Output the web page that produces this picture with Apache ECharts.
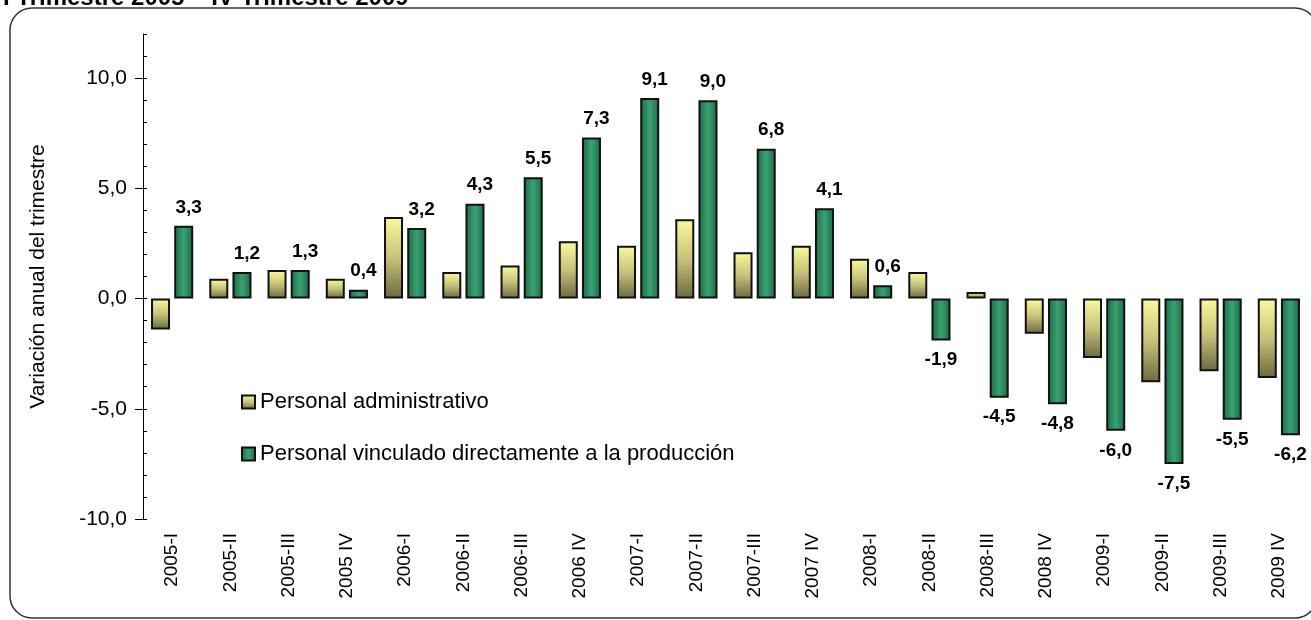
<!DOCTYPE html>
<html>
<head>
<meta charset="utf-8">
<script src="https://cdn.jsdelivr.net/npm/echarts@6/dist/echarts.min.js"></script>
<style>
  html, body { margin: 0; padding: 0; background: #fff; }
  #chart { width: 1311px; height: 620px; }
</style>
</head>
<body>
<div id="chart"></div>
<script>
var FONT = "'Liberation Sans', Arial, sans-serif";

var trimestres = ['2005-I', '2005-II', '2005-III', '2005 IV', '2006-I', '2006-II', '2006-III', '2006 IV',
    '2007-I', '2007-II', '2007-III', '2007 IV', '2008-I', '2008-II', '2008-III', '2008 IV',
    '2009-I', '2009-II', '2009-III', '2009 IV'];

// Personal administrativo (sin etiqueta en el original)
var administrativo = [-1.4, 0.9, 1.3, 0.9, 3.7, 1.2, 1.5, 2.6, 2.4, 3.6,
    2.1, 2.4, 1.8, 1.2, 0.3, -1.6, -2.7, -3.8, -3.3, -3.6];

// Personal vinculado directamente a la produccion
var produccion = [3.3, 1.2, 1.3, 0.4, 3.2, 4.3, 5.5, 7.3, 9.1, 9.0,
    6.8, 4.1, 0.6, -1.9, -4.5, -4.8, -6.0, -7.5, -5.5, -6.2];

var yLabels = [-10, -5, 0, 5, 10];

function coma(v) {
    return Number(v).toFixed(1).replace('.', ',');
}

var chart = echarts.init(document.getElementById('chart'));

var produccionData = produccion.map(function (v) {
    return {
        value: v,
        label: v >= 0
            ? { position: 'top', distance: 9, offset: [5, 0] }
            : { position: 'bottom', distance: 10 }
    };
});

var option = {
    animation: false,
    textStyle: { fontFamily: FONT },
    grid: { left: 143, right: 3, top: 34, bottom: 101 },
    legend: {
        orient: 'vertical',
        left: 236,
        top: 386,
        itemWidth: 13,
        itemHeight: 13,
        itemGap: 30,
        icon: 'rect',
        textStyle: { fontSize: 22, lineHeight: 22, color: '#000', fontFamily: FONT },
        data: ['Personal administrativo', 'Personal vinculado directamente a la producción']
    },
    graphic: [
        {
            type: 'rect',
            shape: { x: 10, y: 8, width: 1307, height: 610, r: 22 },
            style: { fill: 'none', stroke: '#333', lineWidth: 1.5 },
            silent: true
        },
        {
            type: 'text',
            left: 3,
            top: -14,
            style: {
                text: 'I Trimestre 2005 – IV Trimestre 2009',
                font: 'bold 24px ' + FONT,
                fill: '#000'
            }
        }
    ],
    xAxis: {
        type: 'category',
        data: trimestres,
        position: 'bottom',
        axisLine: { show: false, onZero: false },
        axisTick: { show: false },
        axisLabel: { rotate: 90, fontSize: 19, margin: 14, color: '#000', fontFamily: FONT, interval: 0 }
    },
    yAxis: [
        {
            type: 'value',
            min: -10,
            max: 12,
            interval: 1,
            name: 'Variación anual del trimestre',
            nameLocation: 'middle',
            nameGap: 94,
            nameTextStyle: { fontSize: 21, color: '#000', fontFamily: FONT },
            splitLine: { show: false },
            axisLine: { show: true, lineStyle: { color: '#000', width: 1 } },
            axisTick: { show: true, customValues: yLabels, length: 8, lineStyle: { color: '#000' } },
            axisLabel: {
                customValues: yLabels,
                fontSize: 21,
                margin: 16,
                color: '#000',
                fontFamily: FONT,
                formatter: coma
            }
        },
        {
            type: 'value',
            min: -10,
            max: 12,
            interval: 1,
            position: 'right',
            offset: -1165,
            splitLine: { show: false },
            axisLine: { show: false },
            axisTick: { show: true, length: 4, lineStyle: { color: '#000' } },
            axisLabel: { show: false }
        }
    ],
    series: [
        {
            name: 'Personal administrativo',
            type: 'bar',
            data: administrativo,
            barWidth: 19,
            barGap: '22%',
            itemStyle: {
                color: new echarts.graphic.LinearGradient(0, 0, 0, 1, [
                    { offset: 0, color: '#fbfb9c' },
                    { offset: 0.5, color: '#c7c27a' },
                    { offset: 1, color: '#6c6840' }
                ]),
                borderColor: '#111',
                borderWidth: 2
            }
        },
        {
            name: 'Personal vinculado directamente a la producción',
            type: 'bar',
            data: produccionData,
            barWidth: 19,
            barGap: '22%',
            itemStyle: {
                color: new echarts.graphic.LinearGradient(0, 0, 1, 0, [
                    { offset: 0, color: '#1b6a43' },
                    { offset: 0.5, color: '#3aa172' },
                    { offset: 1, color: '#1b6a43' }
                ]),
                borderColor: '#111',
                borderWidth: 2
            },
            label: {
                show: true,
                fontSize: 19,
                fontWeight: 'bold',
                color: '#000',
                fontFamily: FONT,
                formatter: function (p) { return coma(p.value); }
            }
        }
    ]
};

chart.setOption(option);
</script>
</body>
</html>
